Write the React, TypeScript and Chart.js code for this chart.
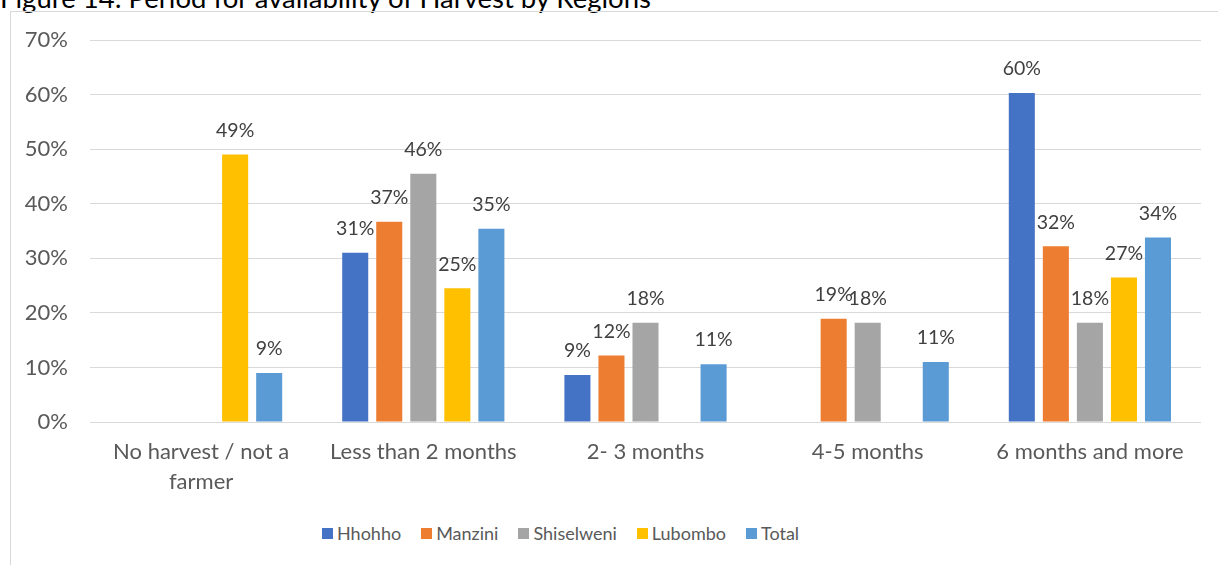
import React, { useEffect, useRef } from "react";
import { Chart, registerables } from "chart.js";

Chart.register(...registerables);

const categories: (string | string[])[] = [
  ["No harvest / not a", "farmer"],
  "Less than 2 months",
  "2- 3 months",
  "4-5 months",
  "6 months and more",
];

const hhohho = [null, 31, 8.6, null, 60.3];
const manzini = [null, 36.7, 12.2, 18.9, 32.2];
const shiselweni = [null, 45.5, 18.2, 18.2, 18.2];
const lubombo = [49, 24.5, null, null, 26.5];
const total = [9, 35.4, 10.6, 11, 33.8];

const seriesNames = ["Hhohho", "Manzini", "Shiselweni", "Lubombo", "Total"];
const seriesColors = ["#4472C4", "#ED7D31", "#A5A5A5", "#FFC000", "#5B9BD5"];
const yTicks = [0, 10, 20, 30, 40, 50, 60, 70];

const FONT = "Lato, 'Open Sans', sans-serif";

const labelPlugin = {
  id: "barLabels",
  afterDatasetsDraw(chart: any) {
    const ctx = chart.ctx;
    ctx.save();
    ctx.font = `19.5px ${FONT}`;
    ctx.fillStyle = "#404040";
    ctx.textAlign = "center";
    ctx.textBaseline = "middle";
    chart.data.datasets.forEach((ds: any, i: number) => {
      const meta = chart.getDatasetMeta(i);
      meta.data.forEach((el: any, j: number) => {
        const v = ds.data[j];
        if (v === null || v === undefined) return;
        ctx.fillText(`${Math.round(v)}%`, el.x, el.y - 24);
      });
    });
    ctx.restore();
  },
};

export default function App() {
  const ref = useRef<HTMLCanvasElement>(null);
  useEffect(() => {
    const all = [hhohho, manzini, shiselweni, lubombo, total];
    const chart = new Chart(ref.current as HTMLCanvasElement, {
      type: "bar",
      data: {
        labels: categories as any,
        datasets: all.map((d, i) => ({
          label: seriesNames[i],
          data: d as any,
          backgroundColor: seriesColors[i],
          categoryPercentage: 0.766,
          barPercentage: 0.765,
        })),
      },
      options: {
        animation: false,
        responsive: false,
        maintainAspectRatio: false,
        devicePixelRatio: 1,
        layout: { padding: { top: 29, right: 17, bottom: 5, left: 0 } },
        plugins: {
          legend: { display: false },
          tooltip: { enabled: false },
          title: { display: false },
        },
        scales: {
          x: {
            grid: { display: false, drawTicks: false },
            border: { display: false },
            ticks: {
              color: "#595959",
              font: { family: FONT, size: 22, lineHeight: "30px" as any },
              padding: 15,
              maxRotation: 0,
              autoSkip: false,
            },
          },
          y: {
            min: 0,
            max: 70,
            afterFit: (s: any) => {
              s.width = 79;
              s.paddingTop = 0;
            },
            afterBuildTicks: (s: any) => {
              s.ticks = yTicks.map((v) => ({ value: v }));
            },
            grid: { color: "#D9D9D9", lineWidth: 1, drawTicks: false },
            border: { display: false },
            ticks: {
              color: "#595959",
              font: { family: FONT, size: 22 },
              padding: 22,
              callback: (v: any) => `${v}%`,
            },
          },
        },
      },
      plugins: [labelPlugin],
    });
    return () => chart.destroy();
  }, []);

  return (
    <div
      style={{
        position: "fixed",
        left: 0,
        top: 0,
        width: 1218,
        height: 565,
        overflow: "hidden",
        background: "#fff",
        fontFamily: FONT,
      }}
    >
      <div
        style={{
          position: "absolute",
          left: 0,
          top: -19,
          fontSize: 27.5,
          color: "#000",
          whiteSpace: "nowrap",
          lineHeight: "33px",
        }}
      >
        Figure 14: Period for availability of Harvest by Regions
      </div>
      <div
        style={{
          position: "absolute",
          left: 10,
          top: 11,
          width: 1230,
          height: 600,
          border: "1px solid #D9D9D9",
          boxSizing: "border-box",
        }}
      />
      <canvas
        ref={ref}
        width={1207}
        height={506}
        style={{ position: "absolute", left: 11, top: 11, width: 1207, height: 506 }}
      />
      <div
        style={{
          position: "absolute",
          left: 322,
          top: 522,
          display: "flex",
          alignItems: "center",
          fontSize: 18,
          color: "#595959",
          lineHeight: "22px",
        }}
      >
        {seriesNames.map((n, i) => (
          <div key={n} style={{ display: "flex", alignItems: "center", marginRight: 20 }}>
            <span
              style={{
                display: "inline-block",
                width: 11,
                height: 11,
                background: seriesColors[i],
                marginRight: 4,
              }}
            />
            <span>{n}</span>
          </div>
        ))}
      </div>
    </div>
  );
}
